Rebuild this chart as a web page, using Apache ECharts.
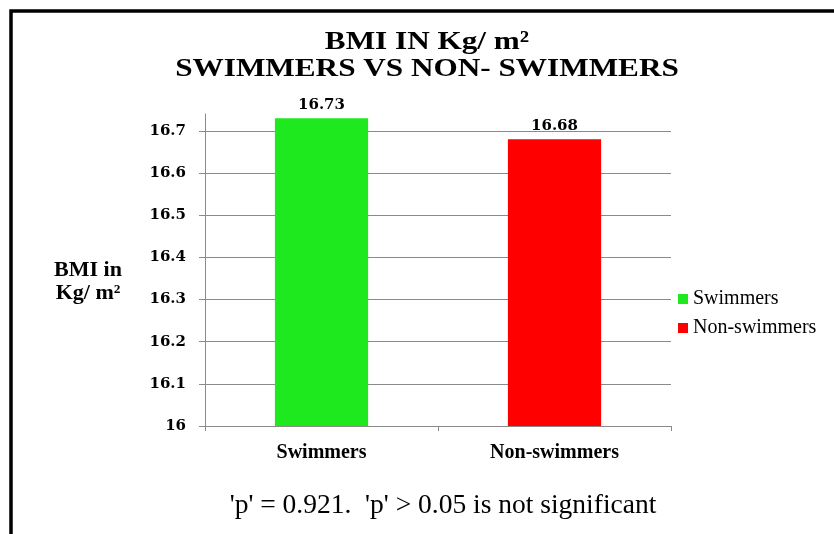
<!DOCTYPE html>
<html>
<head>
<meta charset="utf-8">
<script src="https://cdn.jsdelivr.net/npm/echarts@6/dist/echarts.min.js"></script>
<style>
html,body{margin:0;padding:0;background:#fff;}
#chart{width:834px;height:534px;}
</style>
</head>
<body>
<div id="chart"></div>
<script>
var categories = ['Swimmers', 'Non-swimmers'];
var seriesNames = ['Swimmers', 'Non-swimmers'];
var swimmersValues = [16.73, '-'];
var nonSwimmersValues = ['-', 16.68];
var yTickValues = [16, 16.1, 16.2, 16.3, 16.4, 16.5, 16.6, 16.7];
var titleLines = ['BMI IN Kg/ m\u00b2', 'SWIMMERS VS NON- SWIMMERS'];
var yAxisNameLines = ['BMI in', 'Kg/ m\u00b2'];
var footnote = "'p' = 0.921.  'p' > 0.05 is not significant";

var serif = '"Liberation Serif", "Times New Roman", serif';
var wideSerif = '"DejaVu Serif", serif';

var chart = echarts.init(document.getElementById('chart'), null, {renderer: 'canvas'});

var labelStyle = {
  show: true,
  position: 'top',
  distance: 6,
  fontFamily: wideSerif,
  fontWeight: 'bold',
  fontSize: 15,
  color: '#000',
  formatter: function (p) { return p.value.toFixed(2); }
};

chart.setOption({
  backgroundColor: '#fff',
  animation: false,
  graphic: [
    {type: 'rect', shape: {x: 11, y: 11, width: 900, height: 600},
     style: {fill: null, stroke: '#000', lineWidth: 3.5}, z: 10, silent: true},
    {type: 'text', x: 427, y: 42, scaleX: 1.2,
     style: {text: titleLines[0], font: 'bold 26px ' + serif, fill: '#000', textAlign: 'center', textVerticalAlign: 'middle'}},
    {type: 'text', x: 427, y: 69, scaleX: 1.2,
     style: {text: titleLines[1], font: 'bold 26px ' + serif, fill: '#000', textAlign: 'center', textVerticalAlign: 'middle'}},
    {type: 'text', x: 88, y: 270,
     style: {text: yAxisNameLines[0], font: 'bold 22px ' + serif, fill: '#000', textAlign: 'center', textVerticalAlign: 'middle'}},
    {type: 'text', x: 88, y: 293,
     style: {text: yAxisNameLines[1], font: 'bold 22px ' + serif, fill: '#000', textAlign: 'center', textVerticalAlign: 'middle'}},
    {type: 'text', x: 443, y: 506,
     style: {text: footnote, font: '27.5px ' + serif, fill: '#000', textAlign: 'center', textVerticalAlign: 'middle'}}
  ],
  legend: {
    orient: 'vertical',
    left: 678,
    top: 289,
    padding: 0,
    itemWidth: 10,
    itemHeight: 10,
    itemGap: 9,
    icon: 'rect',
    data: seriesNames,
    textStyle: {fontFamily: serif, fontSize: 20, color: '#000'}
  },
  grid: {left: 205, right: 163, top: 114, bottom: 108, containLabel: false},
  xAxis: {
    type: 'category',
    data: categories,
    axisLine: {show: true, lineStyle: {color: '#8a8a8a', width: 1}},
    axisTick: {show: true, length: 5, lineStyle: {color: '#8a8a8a'}},
    axisLabel: {margin: 17, fontFamily: serif, fontWeight: 'bold', fontSize: 20, color: '#000'}
  },
  yAxis: {
    type: 'value',
    min: 16,
    max: 16.74,
    interval: 0.1,
    axisLine: {show: true, lineStyle: {color: '#8a8a8a', width: 1}},
    axisTick: {show: true, length: 6, customValues: yTickValues, lineStyle: {color: '#8a8a8a'}},
    splitLine: {show: true, lineStyle: {color: '#8a8a8a', width: 1}},
    axisLabel: {
      margin: 19,
      customValues: yTickValues,
      fontFamily: wideSerif,
      fontWeight: 'bold',
      fontSize: 15,
      color: '#000',
      formatter: function (v) { return String(Math.round(v * 10) / 10); }
    }
  },
  series: [
    {name: seriesNames[0], type: 'bar', stack: 'bmi', barWidth: '40%', data: swimmersValues,
     itemStyle: {color: '#1ee81e'}, label: labelStyle},
    {name: seriesNames[1], type: 'bar', stack: 'bmi', barWidth: '40%', data: nonSwimmersValues,
     itemStyle: {color: '#ff0000'}, label: labelStyle}
  ]
});
</script>
</body>
</html>
